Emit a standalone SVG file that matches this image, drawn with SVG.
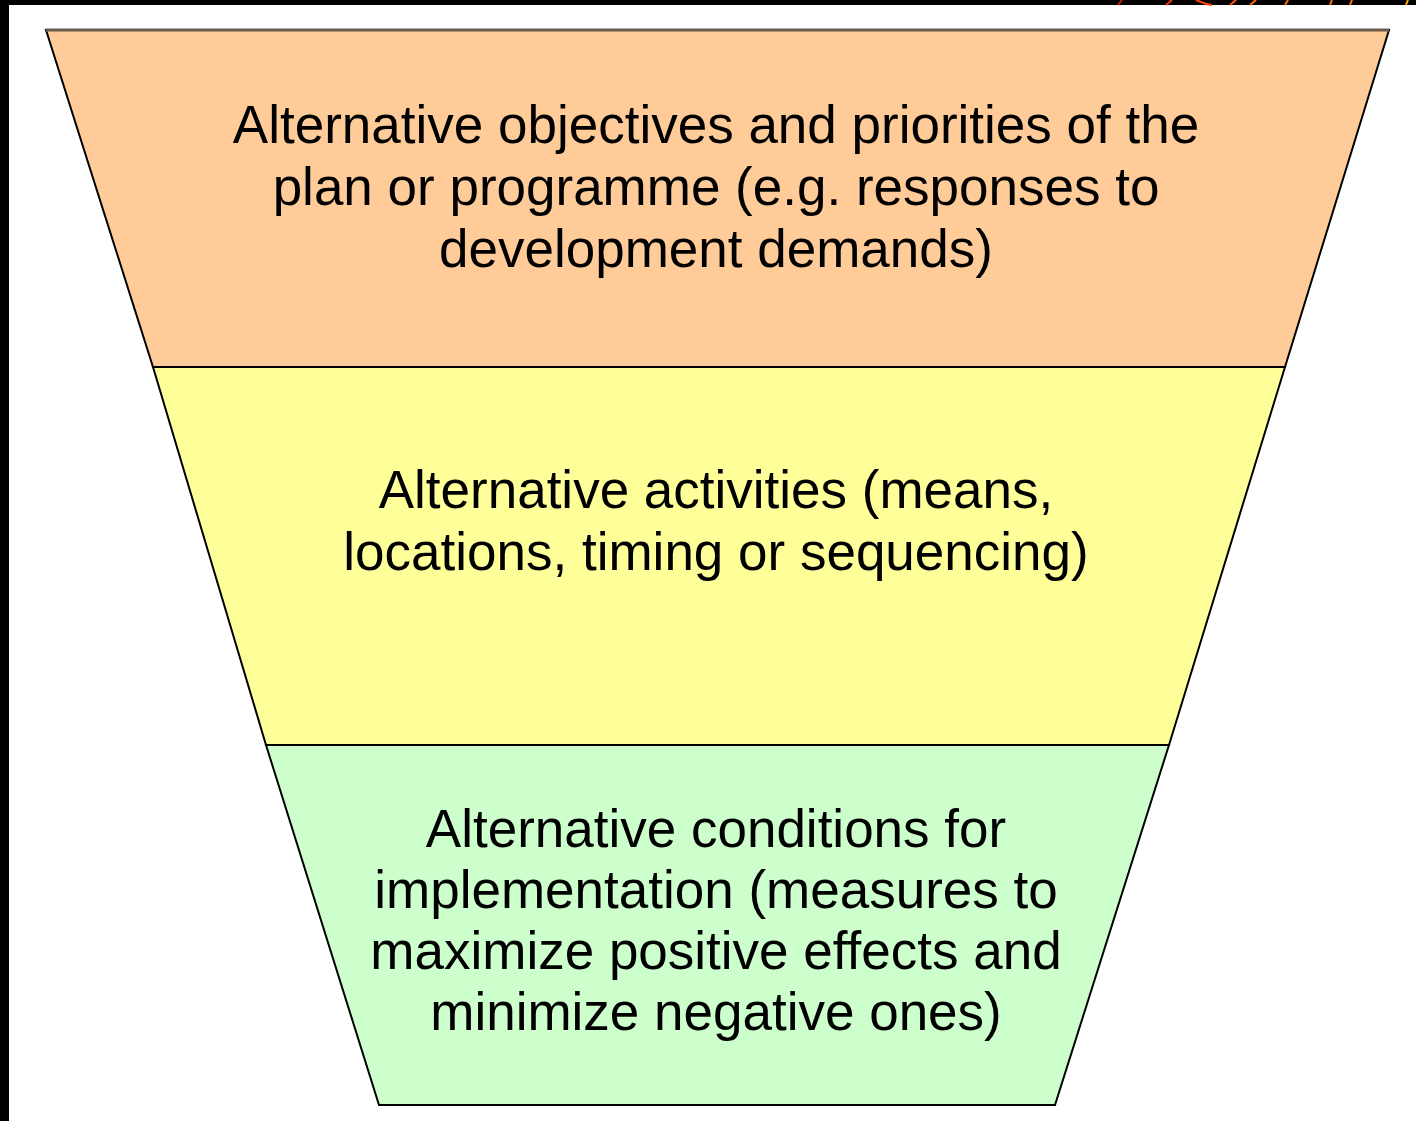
<svg xmlns="http://www.w3.org/2000/svg" width="1416" height="1121" viewBox="0 0 1416 1121">
<style>
.band{stroke:#000;stroke-width:2;stroke-linejoin:miter}
.lbl{font-family:"Liberation Sans",Arial,sans-serif;font-size:53px;fill:#000;text-anchor:middle}
</style>
<rect x="0" y="0" width="1416" height="1121" fill="#fff"/>
<rect x="0" y="0" width="1416" height="5" fill="#000"/>
<rect x="0" y="0" width="9" height="1121" fill="#000"/>
<g id="decor" stroke-width="2" fill="none">
<path d="M1118 5 L1122 0" stroke="#cc2200"/>
<path d="M1166 5 L1172 0" stroke="#ff3300"/>
<path d="M1196 0 Q1205 4 1212 5" stroke="#ff4400"/>
<path d="M1230 5 L1236 0" stroke="#ff5500"/>
<path d="M1250 5 L1256 0" stroke="#ff6600"/>
<path d="M1285 5 L1288 0" stroke="#ff6600"/>
<path d="M1330 5 L1332 0" stroke="#ff7700"/>
<path d="M1350 5 L1352 0" stroke="#ff7700"/>
<path d="M1406 5 L1408 0" stroke="#ffaa00"/>
</g>
<g id="node-objectives">
<polygon class="band" points="46,30 1389,30 1285,367 153,367" fill="#FFCC99"/>
<path d="M46,30 L1389,30" stroke="#6b5a4e" stroke-width="3"/>
<text class="lbl" x="716" y="143">Alternative objectives and priorities of the</text>
<text class="lbl" x="716" y="205">plan or programme (e.g. responses to</text>
<text class="lbl" x="716" y="267">development demands)</text>
</g>
<g id="node-activities">
<polygon class="band" points="153,367 1285,367 1169,745 266,745" fill="#FFFF99"/>
<text class="lbl" x="716" y="508">Alternative activities (means,</text>
<text class="lbl" x="716" y="570">locations, timing or sequencing)</text>
</g>
<g id="node-conditions">
<polygon class="band" points="266,745 1169,745 1055,1105 379,1105" fill="#CCFFCC"/>
<text class="lbl" x="716" y="847">Alternative conditions for</text>
<text class="lbl" x="716" y="908">implementation (measures to</text>
<text class="lbl" x="716" y="969">maximize positive effects and</text>
<text class="lbl" x="716" y="1030">minimize negative ones)</text>
</g>
<g id="connectors"></g>
</svg>
